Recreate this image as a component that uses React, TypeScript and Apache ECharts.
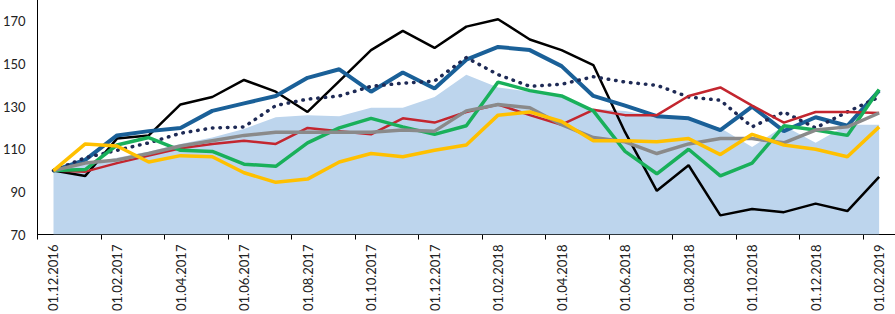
import React, { useEffect, useRef } from "react";
import * as echarts from "echarts";

const categories = [
  "01.12.2016", "01.01.2017", "01.02.2017", "01.03.2017", "01.04.2017", "01.05.2017",
  "01.06.2017", "01.07.2017", "01.08.2017", "01.09.2017", "01.10.2017", "01.11.2017",
  "01.12.2017", "01.01.2018", "01.02.2018", "01.03.2018", "01.04.2018", "01.05.2018",
  "01.06.2018", "01.07.2018", "01.08.2018", "01.09.2018", "01.10.2018", "01.11.2018",
  "01.12.2018", "01.01.2019", "01.02.2019",
];

const areaValues = [100, 103, 106, 109, 112.5, 115.5, 119.5, 125, 126, 125.5, 129.5, 129.5, 134.5, 145, 139, 137, 134.5, 129, 128, 125.5, 124, 120, 111, 121, 113, 121.5, 121.5];
const blackValues = [100, 97.5, 115, 116.5, 131, 134.5, 142.5, 137, 127.5, 142, 156.5, 165.5, 157.5, 167.5, 171, 161.5, 156.5, 149.5, 118, 90.5, 102.5, 79, 82, 80.5, 84.5, 81, 97];
const blueValues = [100, 105, 116.5, 118.5, 120, 128, 131.5, 135, 143.5, 147.5, 137, 146, 138.5, 152, 158, 156.5, 149, 135, 130.5, 125.5, 124.5, 119, 130, 118.5, 125, 121, 137.5];
const dottedValues = [100, 106, 109.5, 113, 117.5, 120, 120.5, 130.5, 133.5, 135, 139.5, 141, 142, 153, 145, 139.5, 140.5, 144, 141.5, 140, 134.5, 133, 120.5, 127.5, 120, 127.5, 134.5];
const redValues = [100, 99.5, 103.5, 107, 110.5, 112.5, 114, 112.5, 120, 118.5, 117, 124.5, 122.5, 127.5, 131, 126, 121.5, 128.5, 126, 126, 135, 139, 130.5, 122.5, 127.5, 127.5, 127];
const greenValues = [100, 100.5, 112, 115.5, 109.5, 109, 103, 102, 113, 120, 124.5, 120.5, 117, 121, 141.5, 137.5, 135, 128, 109, 98.5, 110, 97.5, 103.5, 121, 119, 116.5, 138];
const grayValues = [100, 103.5, 105, 108, 111.5, 114, 116.5, 118, 118, 118, 118, 119, 118.5, 128, 131, 129.5, 121.5, 115.5, 113.5, 108, 112.5, 115, 115, 113, 119, 120.5, 127];
const yellowValues = [100, 112.5, 111.5, 104, 107, 106.5, 99, 94.5, 96, 104, 108, 106.5, 109.5, 112, 126, 127.5, 123, 114, 114, 113.5, 115, 107.5, 117, 112, 110, 106.5, 120.5];

const yTicks = { min: 70, max: 180, interval: 20 };

function lineSeries(name: string, data: number[], color: string, width: number, extra: any = {}) {
  return {
    name,
    type: "line",
    data,
    symbol: "none",
    smooth: false,
    lineStyle: { color, width, ...extra },
    emphasis: { disabled: true },
  };
}

export default function App() {
  const ref = useRef<HTMLDivElement>(null);
  useEffect(() => {
    if (!ref.current) return;
    const chart = echarts.init(ref.current, undefined, { renderer: "svg" });
    chart.setOption({
      animation: false,
      grid: { left: 35, right: 0, top: 0, bottom: 76, containLabel: false },
      xAxis: {
        type: "category",
        data: categories,
        boundaryGap: true,
        axisLine: { lineStyle: { color: "#000", width: 1 } },
        axisTick: { show: true, interval: 1, length: 5, lineStyle: { color: "#000" } },
        axisLabel: {
          interval: 1,
          rotate: 90,
          margin: 10,
          fontSize: 13,
          fontFamily: "Lato",
          color: "#222",
        },
        splitLine: { show: false },
      },
      yAxis: {
        type: "value",
        min: yTicks.min,
        max: yTicks.max,
        interval: yTicks.interval,
        axisLine: { show: true, lineStyle: { color: "#000", width: 1 } },
        axisTick: { show: false },
        splitLine: { show: false },
        axisLabel: {
          margin: 12,
          fontSize: 13,
          fontFamily: "Lato",
          color: "#222",
          formatter: (v: number) => (v === 180 ? "" : String(v)),
        },
      },
      series: [
        {
          name: "area",
          type: "line",
          data: areaValues,
          symbol: "none",
          lineStyle: { width: 0 },
          areaStyle: { color: "#bdd5ed", opacity: 1, origin: "start" },
          emphasis: { disabled: true },
        },
        lineSeries("black", blackValues, "#000000", 2.5),
        lineSeries("blue", blueValues, "#1a6098", 4),
        lineSeries("dotted", dottedValues, "#1e2a55", 3.5, { type: [0.5, 7], cap: "round" }),
        lineSeries("red", redValues, "#c3262f", 2.5),
        lineSeries("green", greenValues, "#19b05a", 3.5),
        lineSeries("gray", grayValues, "#8a8a8a", 3.5),
        lineSeries("yellow", yellowValues, "#ffc000", 3.5),
      ],
    });
    return () => chart.dispose();
  }, []);
  return (
    <div
      ref={ref}
      style={{ position: "fixed", left: 0, top: 0, width: 895, height: 314, background: "#fff" }}
    />
  );
}
